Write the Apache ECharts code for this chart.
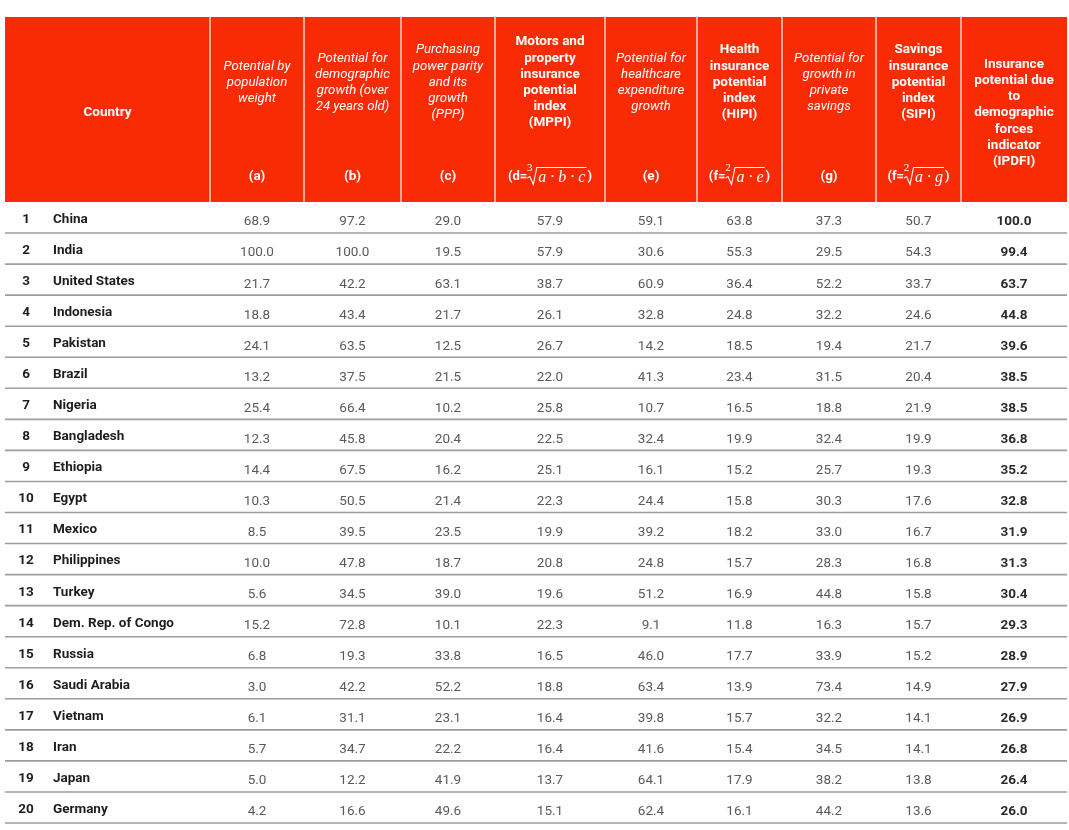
<!DOCTYPE html>
<html><head><meta charset="utf-8">
<script src="https://cdn.jsdelivr.net/npm/echarts@6/dist/echarts.min.js"></script>
<style>html,body{margin:0;padding:0;background:#fff}#c{width:1069px;height:830px}</style>
</head><body><div id="c"></div>
<script>
// ---------------- data ----------------
const ranks = [1,2,3,4,5,6,7,8,9,10,11,12,13,14,15,16,17,18,19,20];
const countries = ['China','India','United States','Indonesia','Pakistan','Brazil','Nigeria','Bangladesh','Ethiopia','Egypt','Mexico','Philippines','Turkey','Dem. Rep. of Congo','Russia','Saudi Arabia','Vietnam','Iran','Japan','Germany'];
const popWeight   = [68.9,100.0,21.7,18.8,24.1,13.2,25.4,12.3,14.4,10.3,8.5,10.0,5.6,15.2,6.8,3.0,6.1,5.7,5.0,4.2];      // (a)
const demoGrowth  = [97.2,100.0,42.2,43.4,63.5,37.5,66.4,45.8,67.5,50.5,39.5,47.8,34.5,72.8,19.3,42.2,31.1,34.7,12.2,16.6]; // (b)
const pppGrowth   = [29.0,19.5,63.1,21.7,12.5,21.5,10.2,20.4,16.2,21.4,23.5,18.7,39.0,10.1,33.8,52.2,23.1,22.2,41.9,49.6];   // (c)
const mppi        = [57.9,57.9,38.7,26.1,26.7,22.0,25.8,22.5,25.1,22.3,19.9,20.8,19.6,22.3,16.5,18.8,16.4,16.4,13.7,15.1];   // (d)
const healthExp   = [59.1,30.6,60.9,32.8,14.2,41.3,10.7,32.4,16.1,24.4,39.2,24.8,51.2,9.1,46.0,63.4,39.8,41.6,64.1,62.4];    // (e)
const hipi        = [63.8,55.3,36.4,24.8,18.5,23.4,16.5,19.9,15.2,15.8,18.2,15.7,16.9,11.8,17.7,13.9,15.7,15.4,17.9,16.1];   // (f)
const privSavings = [37.3,29.5,52.2,32.2,19.4,31.5,18.8,32.4,25.7,30.3,33.0,28.3,44.8,16.3,33.9,73.4,32.2,34.5,38.2,44.2];   // (g)
const sipi        = [50.7,54.3,33.7,24.6,21.7,20.4,21.9,19.9,19.3,17.6,16.7,16.8,15.8,15.7,15.2,14.9,14.1,14.1,13.8,13.6];   // (h)
const ipdfi       = [100.0,99.4,63.7,44.8,39.6,38.5,38.5,36.8,35.2,32.8,31.9,31.3,30.4,29.3,28.9,27.9,26.9,26.8,26.4,26.0];

const headerTitles = [
  'Country',
  'Potential by\npopulation\nweight',
  'Potential for\ndemographic\ngrowth (over\n24 years old)',
  'Purchasing\npower parity\nand its\ngrowth\n(PPP)',
  'Motors and\nproperty\ninsurance\npotential\nindex\n(MPPI)',
  'Potential for\nhealthcare\nexpenditure\ngrowth',
  'Health\ninsurance\npotential\nindex\n(HIPI)',
  'Potential for\ngrowth in\nprivate\nsavings',
  'Savings\ninsurance\npotential\nindex\n(SIPI)',
  'Insurance\npotential due\nto\ndemographic\nforces\nindicator\n(IPDFI)'
];
const headerLabels = ['', '(a)', '(b)', '(c)', '', '(e)', '', '(g)', '', ''];
const headerFormulas = {
  4: { pre: '(d=', idx: '3', rad: 'a \u00b7 b \u00b7 c' },
  6: { pre: '(f=', idx: '2', rad: 'a \u00b7 e' },
  8: { pre: '(f=', idx: '2', rad: 'a \u00b7 g' }
};
const valueColumns = [popWeight, demoGrowth, pppGrowth, mppi, healthExp, hipi, privSavings, sipi, ipdfi];

// ---------------- layout / style ----------------
const colWidths = [205, 94, 97, 94, 110, 92, 85, 94, 85, 106];
const edges = [0]; colWidths.forEach(w => edges.push(edges[edges.length - 1] + w));
const TOTAL_W = edges[edges.length - 1];
const HEADER_H = 185;
const RED = '#f82b05';
const titleStyleKind = ['bold','italic','italic','italic','bold','italic','bold','italic','bold','bold'];

const mctx = document.createElement('canvas').getContext('2d');
function tw(s, font) { mctx.font = font; return mctx.measureText(s).width; }

function txt(s, x, y, font, align, fill, extra) {
  return Object.assign({ type: 'text', silent: true, style: { text: s, x: x, y: y, font: font, align: align, verticalAlign: 'middle', fill: fill || '#fff' } }, extra || {});
}

function formulaGroup(cx, cy, f) {
  const fPre = 'bold 13px Roboto';
  const fRad = 'italic 16px "Liberation Serif"';
  const fIdx = '11px "Liberation Serif"';
  const wPre = tw(f.pre, fPre), wRad = tw(f.rad, fRad), wClose = tw(')', fPre);
  const wRoot = 10, gap = 1;
  const total = wPre + wRoot + gap + wRad + 2 + wClose;
  let x = cx - total / 2;
  const els = [];
  els.push(txt(f.pre, x, cy, fPre, 'left'));
  x += wPre;
  const yTop = cy - 9, yBot = cy + 8;
  els.push(txt(f.idx, x + 2.5, yTop + 1, fIdx, 'center'));
  els.push({ type: 'polyline', silent: true, shape: { points: [[x, cy + 1.5], [x + 2.5, cy], [x + 6, yBot], [x + 9.5, yTop], [x + wRoot + gap + wRad + 1, yTop]] },
             style: { stroke: '#fff', lineWidth: 1.1, fill: null } });
  x += wRoot + gap;
  els.push(txt(f.rad, x, cy + 1.5, fRad, 'left'));
  x += wRad + 2;
  els.push(txt(')', x, cy, fPre, 'left'));
  return els;
}

// ---------------- series data built from arrays ----------------
const rowIdx = countries.map((_, i) => i);
const lineData = rowIdx.map(i => [0, i]);
const countryData = rowIdx.map(i => [edges[0], i]);
const headerData = headerTitles.map((_, k) => [(edges[k] + edges[k + 1]) / 2, 0, k]);
const cellSeries = valueColumns.map((arr, j) => {
  const k = j + 1;
  const cx = (edges[k] + edges[k + 1]) / 2;
  const isKey = (k === 9);
  return {
    type: 'custom', clip: false, z: 5,
    data: arr.map((v, i) => [cx, i, v]),
    renderItem: function (params, api) {
      const p = api.coord([api.value(0), api.value(1)]);
      return txt(api.value(2).toFixed(1), p[0], p[1] + 4.5,
        isKey ? 'bold 13.5px Roboto' : '13.5px Roboto', 'center', isKey ? '#2b2b2b' : '#5a5a5a');
    }
  };
});

const chart = echarts.init(document.getElementById('c'), null, { renderer: 'canvas' });
chart.setOption({
  animation: false,
  backgroundColor: '#fff',
  grid: { left: 5, right: 2, top: 202, bottom: 7 },
  xAxis: { type: 'value', min: 0, max: TOTAL_W, show: false },
  yAxis: { type: 'category', data: countries, inverse: true, show: false },
  series: [
    { // row separators
      type: 'custom', clip: false, z: 2, data: lineData,
      renderItem: function (params, api) {
        const i = api.value(1);
        const p = api.coord([0, i]);
        const h = api.size([0, 1])[1];
        const xr = api.coord([TOTAL_W, i])[0];
        return { type: 'line', silent: true, shape: { x1: p[0], y1: p[1] + h / 2, x2: xr, y2: p[1] + h / 2 },
                 style: { stroke: '#9d9d9d', lineWidth: 1.6 } };
      }
    },
    { // header
      type: 'custom', clip: false, z: 3, data: headerData,
      renderItem: function (params, api) {
        const k = api.value(2);
        const xl = api.coord([edges[k], 0])[0], xr = api.coord([edges[k + 1], 0])[0];
        const cx = (xl + xr) / 2;
        const top = params.coordSys.y - HEADER_H, bot = params.coordSys.y;
        const children = [{ type: 'rect', silent: true,
          shape: { x: xl + (k === 0 ? 0 : 0.6), y: top, width: xr - xl - (k === 0 ? 0.6 : 1.2) + (k === 9 ? 0.6 : 0), height: HEADER_H },
          style: { fill: RED } }];
        const kind = titleStyleKind[k];
        const font = kind === 'bold' ? 'bold 13.5px Roboto' : 'italic 13.2px Roboto';
        const centered = (k === 0 || k === 9);
        const cy = centered ? top + 96 : top + 65.5;
        children.push(txt(headerTitles[k], cx, cy, font, 'center', '#fff', {}));
        children[children.length - 1].style.lineHeight = 16.2;
        if (headerLabels[k]) children.push(txt(headerLabels[k], cx, bot - 25.5, 'bold 13.5px Roboto', 'center'));
        if (headerFormulas[k]) formulaGroup(cx, bot - 25.5, headerFormulas[k]).forEach(e => children.push(e));
        return { type: 'group', children: children };
      }
    },
    { // rank + country
      type: 'custom', clip: false, z: 5, data: countryData,
      renderItem: function (params, api) {
        const i = api.value(1);
        const p = api.coord([api.value(0), i]);
        return { type: 'group', children: [
          txt(String(ranks[i]), p[0] + 21, p[1] + 2, 'bold 13.5px Roboto', 'center', '#1e1e1e'),
          txt(countries[i], p[0] + 48, p[1] + 2, 'bold 13.5px Roboto', 'left', '#1e1e1e')
        ] };
      }
    }
  ].concat(cellSeries)
});
</script></body></html>
